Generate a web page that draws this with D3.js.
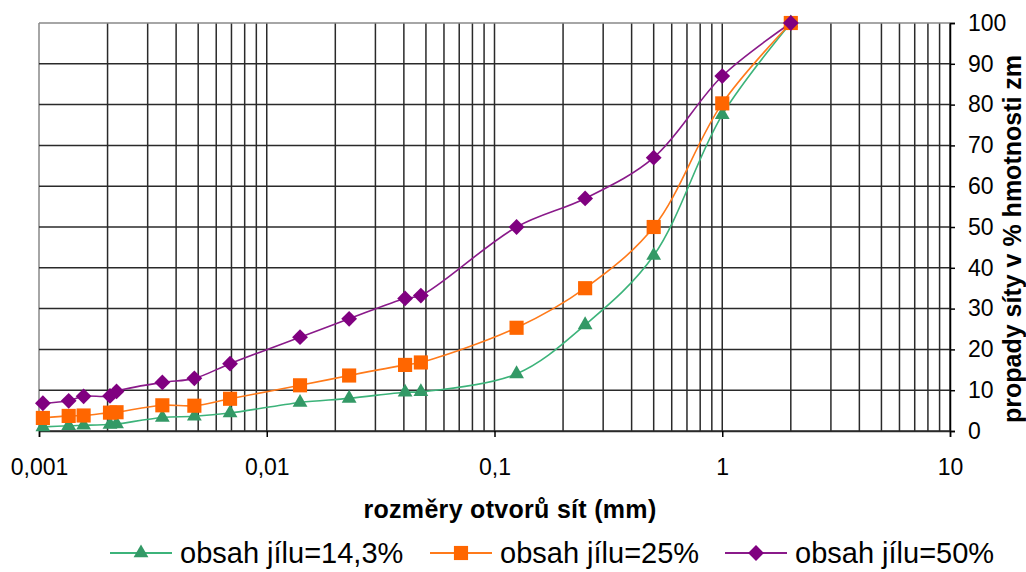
<!DOCTYPE html>
<html>
<head>
<meta charset="utf-8">
<script src="https://cdn.jsdelivr.net/npm/d3@7"></script>
<style>
  html, body { margin: 0; padding: 0; background: #fff; }
  text { font-family: "Liberation Sans", Arial, sans-serif; fill: #000; }
</style>
</head>
<body>
<div id="chart"></div>
<script>
// Sieve opening sizes (mm) and passing percentages per clay content
const sizes = [0.00104, 0.00135, 0.00157, 0.00205, 0.00219, 0.00348, 0.00481, 0.0069,
  0.014, 0.023, 0.0405, 0.0475, 0.125, 0.25, 0.5, 1, 2];
const clay143 = [1, 1.3, 1.4, 1.6, 1.7, 3.3, 3.6, 4.4, 7, 8, 9.5, 9.6, 14, 26, 43, 77.5, 100];
const clay25 = [3.2, 3.7, 3.8, 4.5, 4.6, 6.3, 6.2, 7.9, 11.2, 13.6, 16.2, 16.8, 25.3, 35, 50, 80.3, 100];
const clay50 = [6.8, 7.4, 8.5, 8.6, 9.7, 11.9, 12.9, 16.5, 23, 27.5, 32.5, 33.2, 50, 57, 67, 87, 100];
const seriesNames = ['obsah jílu=14,3%', 'obsah jílu=25%', 'obsah jílu=50%'];
const xTickLabels = ['0,001', '0,01', '0,1', '1', '10'];
const yTicks = [0, 10, 20, 30, 40, 50, 60, 70, 80, 90, 100];

let
w = 1026, h = 572,
padL = 39, padR = 950, padT = 23, padB = 431, // plot area edges
gridColor = '#2a2a2a',

xScale = d3.scaleLog().domain([0.001, 10]).range([padL, padR]),
yScale = d3.scaleLinear().domain([0, 100]).range([padB, padT]),

svg = d3.select('#chart').append('svg').attr('width', w).attr('height', h),

// Diamond drawn as a square turned by 45 degrees (rot), like the Excel marker
series = [
  {name: seriesNames[0], values: clay143, color: '#339966', line: '#3cb37a', sym: d3.symbolTriangle, size: 95, rot: 0},
  {name: seriesNames[1], values: clay25, color: '#ff6600', line: '#ff7a1a', sym: d3.symbolSquare, size: 200, rot: 0},
  {name: seriesNames[2], values: clay50, color: '#800080', line: '#8a1a8a', sym: d3.symbolSquare, size: 125, rot: 45}
];

// Vertical grid at every minor log step, horizontal every 10 %
let minorX = [];
[0.001, 0.01, 0.1, 1].forEach(d => { for (let k = 1; k < 10; k++) minorX.push(d * k); });
minorX.push(10);

svg.append('g').selectAll('line').data(minorX).enter().append('line')
  .attr('x1', d => xScale(d)).attr('x2', d => xScale(d))
  .attr('y1', padT).attr('y2', padB)
  .attr('stroke', (d, i) => i === 0 ? '#888' : gridColor).attr('stroke-width', 1.5);

svg.append('g').selectAll('line').data(yTicks).enter().append('line')
  .attr('x1', padL).attr('x2', padR)
  .attr('y1', d => yScale(d)).attr('y2', d => yScale(d))
  .attr('stroke', d => d === 100 ? '#888' : gridColor).attr('stroke-width', 1.5);

// Right-hand y axis
let yAxis = d3.axisRight(yScale).tickValues(yTicks).tickSize(5).tickPadding(13);
let yG = svg.append('g').attr('transform', 'translate(' + padR + ',0)').call(yAxis);
yG.select('.domain').attr('stroke', '#000').attr('stroke-width', 1.5);
yG.selectAll('line').attr('stroke', '#000').attr('stroke-width', 1.5);
yG.selectAll('text').style('font-size', '23px').attr('font-family', null);

// Bottom x axis, decade ticks only
let xAxis = d3.axisBottom(xScale).tickValues([0.001, 0.01, 0.1, 1, 10])
  .tickFormat((d, i) => xTickLabels[i]).tickSize(6).tickPadding(22);
let xG = svg.append('g').attr('transform', 'translate(0,' + padB + ')').call(xAxis);
xG.select('.domain').attr('stroke', gridColor).attr('stroke-width', 1.5);
xG.selectAll('line').attr('stroke', '#000').attr('stroke-width', 1.5);
xG.selectAll('text').style('font-size', '23px').attr('font-family', null);

// Axis titles
svg.append('text').attr('x', 510).attr('y', 518).attr('text-anchor', 'middle')
  .style('font-size', '25px').style('font-weight', 'bold').style('letter-spacing', '0.3px')
  .text('rozměry otvorů sít (mm)');

svg.append('text').attr('transform', 'translate(1021,423) rotate(-90)')
  .style('font-size', '25px').style('font-weight', 'bold')
  .text('propady síty v % hmotnosti zm');

// Smoothed series lines and markers
let line = d3.line().x((d, i) => xScale(sizes[i])).y(d => yScale(d)).curve(d3.curveCatmullRom.alpha(0.5));

series.forEach(s => {
  svg.append('path').datum(s.values).attr('d', line)
    .attr('fill', 'none').attr('stroke', s.line).attr('stroke-width', 1.6);
});
series.forEach(s => {
  svg.append('g').selectAll('path').data(s.values).enter().append('path')
    .attr('transform', (d, i) => 'translate(' + xScale(sizes[i]) + ',' + yScale(d) + ') rotate(' + s.rot + ')')
    .attr('d', d3.symbol().type(s.sym).size(s.size)).attr('fill', s.color);
});

// Legend along the bottom
let legendX = [110, 430, 725];
series.forEach((s, i) => {
  let g = svg.append('g').attr('transform', 'translate(' + legendX[i] + ',553)');
  g.append('line').attr('x1', 0).attr('x2', 62).attr('stroke', s.line).attr('stroke-width', 2);
  g.append('path').attr('transform', 'translate(31,0) rotate(' + s.rot + ')')
    .attr('d', d3.symbol().type(s.sym).size(s.size)).attr('fill', s.color);
  g.append('text').attr('x', 70).attr('y', 10).style('font-size', '29px').text(s.name);
});
</script>
</body>
</html>
